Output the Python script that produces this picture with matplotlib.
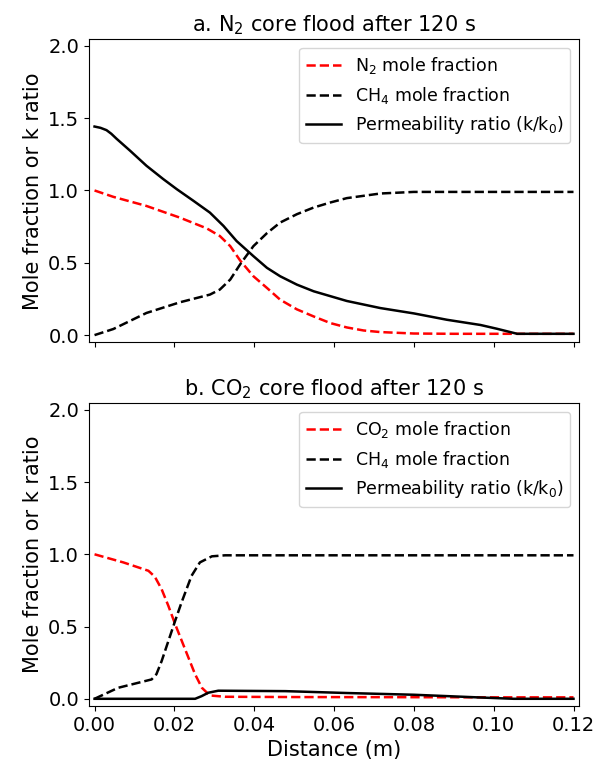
import matplotlib
matplotlib.use("Agg")
import matplotlib.pyplot as plt

# ---- Panel a: N2 core flood ----
a_x_n2 = [0.0, 0.0047, 0.013, 0.0214, 0.0281, 0.0314, 0.034, 0.0365, 0.0398, 0.0432,
          0.0465, 0.0507, 0.0549, 0.0591, 0.0632, 0.0674, 0.0716, 0.08, 0.09, 0.1, 0.11, 0.12]
a_n2 = [1.0, 0.956, 0.893, 0.812, 0.738, 0.685, 0.615, 0.515, 0.407, 0.326,
        0.245, 0.178, 0.129, 0.083, 0.053, 0.032, 0.021, 0.011, 0.009, 0.009, 0.009, 0.009]

a_x_ch4 = [0.0, 0.0047, 0.013, 0.0214, 0.0289, 0.0314, 0.034, 0.0365, 0.0398, 0.0432,
           0.0465, 0.0507, 0.0549, 0.0591, 0.0632, 0.0716, 0.08, 0.09, 0.1, 0.11, 0.12]
a_ch4 = [0.0, 0.042, 0.153, 0.227, 0.28, 0.315, 0.384, 0.49, 0.615, 0.705,
         0.778, 0.836, 0.882, 0.917, 0.947, 0.979, 0.99, 0.99, 0.99, 0.99, 0.99]

a_x_k = [0.0, 0.0015, 0.003, 0.0042, 0.0055, 0.0089, 0.013, 0.0172, 0.0206, 0.0248,
         0.0289, 0.0323, 0.0356, 0.0398, 0.0432, 0.0465, 0.0507, 0.0549, 0.0632, 0.0716,
         0.08, 0.0883, 0.0967, 0.1008, 0.1059, 0.11, 0.12]
a_k = [1.442, 1.433, 1.417, 1.392, 1.358, 1.275, 1.171, 1.079, 1.009, 0.928,
       0.847, 0.755, 0.65, 0.546, 0.465, 0.407, 0.349, 0.303, 0.236, 0.187,
       0.15, 0.106, 0.07, 0.044, 0.009, 0.009, 0.009]

# ---- Panel b: CO2 core flood ----
b_x_co2 = [0.0, 0.0072, 0.0135, 0.0151, 0.0168, 0.0185, 0.0202, 0.0227, 0.0252, 0.0269,
           0.0289, 0.0327, 0.05, 0.08, 0.1, 0.12]
b_co2 = [1.0, 0.944, 0.886, 0.845, 0.759, 0.643, 0.516, 0.342, 0.169, 0.076,
         0.023, 0.014, 0.012, 0.011, 0.01, 0.01]

b_x_ch4 = [0.0, 0.0059, 0.0143, 0.0155, 0.0168, 0.0185, 0.0202, 0.0218, 0.0243, 0.0264,
           0.0294, 0.0327, 0.05, 0.08, 0.1, 0.12]
b_ch4 = [0.0, 0.076, 0.134, 0.17, 0.26, 0.40, 0.54, 0.667, 0.851, 0.944,
         0.986, 0.993, 0.993, 0.993, 0.993, 0.993]

b_x_k = [0.0, 0.0252, 0.0268, 0.0285, 0.031, 0.0478, 0.0632, 0.08, 0.0967, 0.105, 0.12]
b_k = [0.0, 0.0, 0.018, 0.042, 0.056, 0.053, 0.04, 0.028, 0.009, 0.0, 0.0]

titles = ["a. N$_2$ core flood after 120 s", "b. CO$_2$ core flood after 120 s"]
gas_labels = ["N$_2$ mole fraction", "CO$_2$ mole fraction"]
ch4_label = "CH$_4$ mole fraction"
k_label = "Permeability ratio (k/k$_0$)"

plt.rcParams['font.size'] = 14

fig = plt.figure(figsize=(5.97, 7.65), dpi=100)
ax1 = fig.add_axes([0.149, 0.5525, 0.821, 0.3961])
ax2 = fig.add_axes([0.149, 0.0771, 0.821, 0.3957], sharex=ax1)

panels = [
    (ax1, a_x_n2, a_n2, a_x_ch4, a_ch4, a_x_k, a_k),
    (ax2, b_x_co2, b_co2, b_x_ch4, b_ch4, b_x_k, b_k),
]
for i, (ax, xg, g, xc, c, xk, k) in enumerate(panels):
    ax.plot(xg, g, color='red', linestyle='--', linewidth=1.8, label=gas_labels[i])
    ax.plot(xc, c, color='black', linestyle='--', linewidth=1.8, label=ch4_label)
    ax.plot(xk, k, color='black', linestyle='-', linewidth=1.8, label=k_label)
    ax.set_ylim(-0.05, 2.045)
    ax.set_yticks([0.0, 0.5, 1.0, 1.5, 2.0])
    ax.set_title(titles[i], fontsize=15)
    ax.set_ylabel("Mole fraction or k ratio", fontsize=15)
    ax.tick_params(labelsize=14)
    ax.legend(loc='upper right', fontsize=12.5)

ax1.set_xlim(-0.0014, 0.1214)
ax1.set_xticks([0.0, 0.02, 0.04, 0.06, 0.08, 0.10, 0.12])
ax1.tick_params(labelbottom=False)
ax2.set_xlabel("Distance (m)", fontsize=15)

fig.savefig("out.png", dpi=100)
